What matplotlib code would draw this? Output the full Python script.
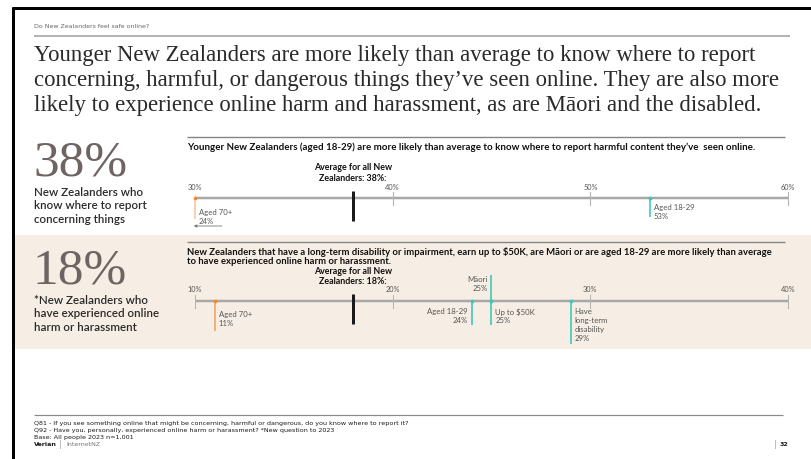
import matplotlib
matplotlib.use("Agg")
import matplotlib.pyplot as plt
from matplotlib.lines import Line2D
from matplotlib.patches import Rectangle

# ---------------- data ----------------
header = "Do New Zealanders feel safe online?"
title_lines = [
    "Younger New Zealanders are more likely than average to know where to report",
    "concerning, harmful, or dangerous things they\u2019ve seen online. They are also more",
    "likely to experience online harm and harassment, as are M\u0101ori and the disabled.",
]

# Chart 1: know where to report
c1_headline = "38%"
c1_sub = ["New Zealanders who", "know where to report", "concerning things"]
c1_title = ["Younger New Zealanders (aged 18-29) are more likely than average to know where to report harmful content they\u2019ve  seen online."]
c1_ticks = [30, 40, 50, 60]
c1_average = 38
c1_groups = ["Aged 70+", "Aged 18-29"]
c1_values = [24, 53]

# Chart 2: experienced harm
c2_headline = "18%"
c2_sub = ["*New Zealanders who", "have experienced online", "harm or harassment"]
c2_title = ["New Zealanders that have a long-term disability or impairment, earn up to $50K, are M\u0101ori or are aged 18-29 are more likely than average",
            "to have experienced online harm or harassment."]
c2_ticks = [10, 20, 30, 40]
c2_average = 18
c2_groups = ["Aged 70+", "Aged 18-29", "M\u0101ori", "Up to $50K", "Have\nlong-term\ndisability"]
c2_values = [11, 24, 25, 25, 29]

footer_lines = [
    "Q81 - If you see something online that might be concerning, harmful or dangerous, do you know where to report it?",
    "Q92 - Have you, personally, experienced online harm or harassment? *New question to 2023",
    "Base: All people 2023 n=1,001",
]
page_no = "32"

# ---------------- styling ----------------
W, H = 812, 460
DPI = 100
SANS = ["Lato", "DejaVu Sans"]
WIDE = ["DejaVu Sans"]
SERIF = ["Liberation Serif", "DejaVu Serif"]
TEAL = "#3cc7b5"
ORANGE = "#f5862a"
ORANGE_LIGHT_TOP = "#f8c6a0"
ORANGE_LINE_BOT = "#f4a25a"
AXIS_GRAY = "#a8a8a8"
BEIGE = "#f6eee5"
BIG_GRAY = "#6e6462"
PX = 72.0 / DPI  # points per pixel
LEFT = 34
AX_X0, AX_X1 = 195, 788

plt.rcParams["font.family"] = SANS
fig = plt.figure(figsize=(W / DPI, H / DPI), dpi=DPI)
fig.patch.set_facecolor("white")


def fx(x):
    return x / W


def fy(y):
    return 1 - y / H


def ftext(x, y, s, **kw):
    kw.setdefault("va", "center")
    kw.setdefault("ha", "left")
    return fig.text(fx(x), fy(y), s, **kw)


def fline(x0, y0, x1, y1, color, lwpx):
    fig.add_artist(Line2D([fx(x0), fx(x1)], [fy(y0), fy(y1)], color=color,
                          lw=lwpx * PX, transform=fig.transFigure, solid_capstyle="butt"))


# background band
fig.add_artist(Rectangle((fx(15), fy(350)), fx(812) - fx(15), fy(236) - fy(350),
                         transform=fig.transFigure, facecolor=BEIGE, edgecolor="none", zorder=0))

# frame
fline(13.5, 8, 13.5, 460, "black", 3)
fline(12, 9, 812, 9, "black", 3)

# header
ftext(LEFT, 27, header, family=WIDE, fontsize=4.5, color="#666666")
fline(LEFT, 37, 790, 37, "#9c9c9c", 1.5)
for i, line in enumerate(title_lines):
    ftext(LEFT, 56 + i * 24.5, line, family=SERIF, fontsize=16.4, color="#2a2a2a")

# footer
fline(LEFT, 416, 783, 416, "#8a8a8a", 1.2)
for i, line in enumerate(footer_lines):
    ftext(LEFT, 424 + i * 6.6, line, family=WIDE, fontsize=4.6, color="#1a1a1a")
ftext(LEFT, 444.5, "Verian", family=WIDE, fontsize=4.6, color="#1a1a1a", weight="bold")
ftext(LEFT + 25, 444.5, "|", family=WIDE, fontsize=5.5, color="#999999")
ftext(LEFT + 32, 444.5, "InternetNZ", family=WIDE, fontsize=4.5, color="#777777")
ftext(774, 445, "|", family=WIDE, fontsize=5.5, color="#999999")
ftext(780, 445, page_no, family=WIDE, fontsize=4.5, color="#1a1a1a", weight="bold")


def section(headline, sub, big_base_y, sub_y0):
    ftext(LEFT - 1, big_base_y, headline, family=SERIF, fontsize=37, color=BIG_GRAY, va="baseline")
    for i, s in enumerate(sub):
        ftext(LEFT, sub_y0 + i * 13.7, s, fontsize=8.4, color="#2a2a2a", weight="semibold")


section(c1_headline, c1_sub, 175, 192)
section(c2_headline, c2_sub, 284, 300)


def chart_axes(y0, y1, xmin, xmax):
    ax = fig.add_axes([fx(AX_X0), fy(y1), fx(AX_X1) - fx(AX_X0), fy(y0) - fy(y1)])
    ax.set_xlim(xmin, xmax)
    ax.set_ylim(y1, y0)
    ax.axis("off")
    ax.patch.set_alpha(0)
    return ax


def draw_chart(ax, ticks, title, title_fs, title_y, rule_y, avg, avg_y, tick_y, axis_y,
               first_tick=True):
    xmin, xmax = ticks[0], ticks[-1]
    fline(187, rule_y, AX_X1 - 3, rule_y, "#858585", 1.4)
    for i, t in enumerate(title):
        ftext(187, title_y + i * 10, t, fontsize=title_fs, weight="bold", color="#111111")
    ax.plot([xmin, xmax], [axis_y, axis_y], color=AXIS_GRAY, lw=2.5 * PX, zorder=1, clip_on=False,
            solid_capstyle="butt")
    for t in ticks:
        if t != xmin or first_tick:
            ax.plot([t, t], [axis_y - 6, axis_y + 7], color="#b5b5b5", lw=1.1 * PX,
                    zorder=1, clip_on=False)
        ax.text(t, tick_y, f"{t}%", fontsize=5.3, color="#555555", ha="center", va="center",
                clip_on=False)
    ax.plot([avg, avg], [axis_y - 7, axis_y + 23], color="#1a1a1a", lw=3 * PX, zorder=3,
            clip_on=False, solid_capstyle="butt")
    ax.text(avg, avg_y, "Average for all New", fontsize=6.4, weight="bold", color="#111111",
            ha="center", va="center", clip_on=False)
    ax.text(avg, avg_y + 10.5, f"Zealanders: {avg}%:", fontsize=6.4, weight="bold",
            color="#111111", ha="center", va="center", clip_on=False)


def marker(ax, value, xmin, axis_y, y_end, line_color, dot_color, label, side, label_y,
           dot=True):
    xv = max(value, xmin)
    ax.plot([xv, xv], [axis_y, y_end], color=line_color, lw=1.6 * PX, zorder=2,
            clip_on=False, solid_capstyle="butt")
    if dot:
        ax.scatter([xv], [axis_y], s=7, color=dot_color, zorder=4, clip_on=False, linewidths=0)
    dx = 4 if side == "right" else -4
    ha = "left" if side == "right" else "right"
    txt = f"{label}\n{value}%"
    ax.annotate(txt, xy=(xv, label_y), xytext=(dx * PX, 0), textcoords="offset points",
                fontsize=5.6, color="#555555", ha=ha, va="top", linespacing=1.32,
                multialignment=ha, annotation_clip=False)


# ---- chart 1 ----
ax1 = chart_axes(130, 235, c1_ticks[0], c1_ticks[-1])
draw_chart(ax1, c1_ticks, c1_title, 7.05, 147, 138, c1_average, 168, 188, 199, first_tick=False)
marker(ax1, c1_values[0], c1_ticks[0], 199, 220, ORANGE_LIGHT_TOP, ORANGE, c1_groups[0], "right", 209)
marker(ax1, c1_values[1], c1_ticks[0], 199, 218, TEAL, TEAL, c1_groups[1], "right", 204)
ax1.annotate("", xy=(c1_ticks[0] - 0.2, 227), xytext=(c1_ticks[0] + 1.5, 227),
             arrowprops=dict(arrowstyle="-|>", color="#777777", lw=0.6, mutation_scale=4),
             annotation_clip=False)

# ---- chart 2 ----
ax2 = chart_axes(236, 350, c2_ticks[0], c2_ticks[-1])
draw_chart(ax2, c2_ticks, c2_title, 6.82, 252, 243, c2_average, 271.5, 290, 302, first_tick=True)
marker(ax2, c2_values[0], c2_ticks[0], 302, 332, ORANGE_LINE_BOT, ORANGE, c2_groups[0], "right", 311)
marker(ax2, c2_values[1], c2_ticks[0], 302, 326, TEAL, TEAL, c2_groups[1], "left", 308)
marker(ax2, c2_values[2], c2_ticks[0], 302, 276, TEAL, TEAL, c2_groups[2], "left", 276)
marker(ax2, c2_values[3], c2_ticks[0], 302, 326, TEAL, TEAL, c2_groups[3], "right", 308)
marker(ax2, c2_values[4], c2_ticks[0], 302, 345, TEAL, TEAL, c2_groups[4], "right", 308)

fig.savefig("out.png", dpi=DPI, facecolor="white")
